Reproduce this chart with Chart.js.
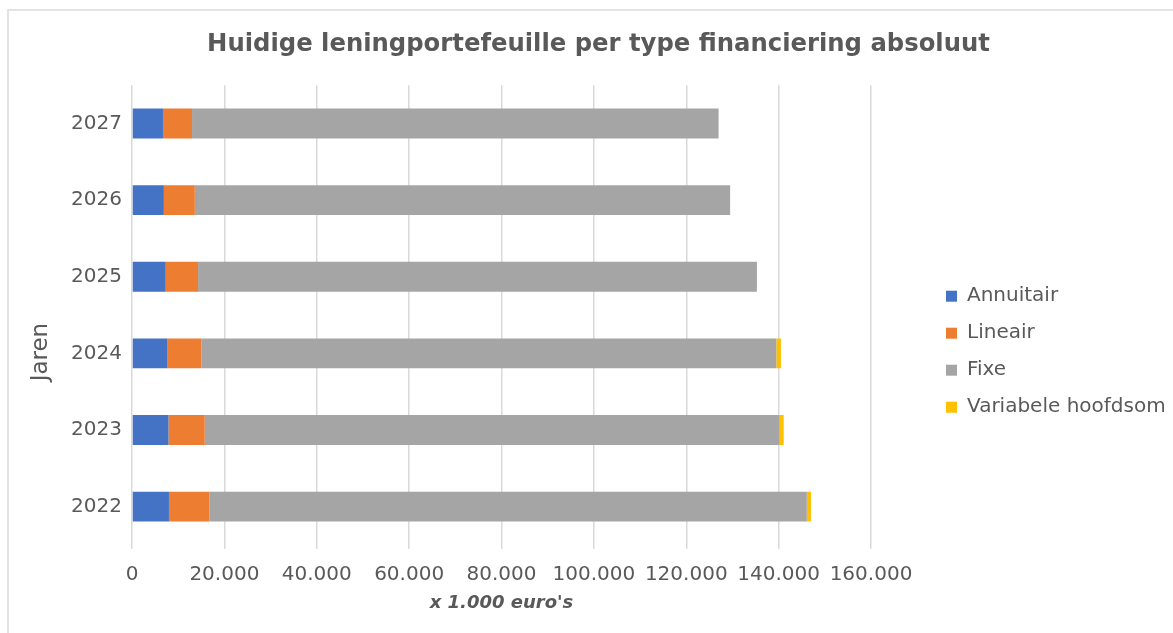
<!DOCTYPE html>
<html>
<head>
<meta charset="utf-8">
<script src="https://cdn.jsdelivr.net/npm/chart.js@4/dist/chart.umd.min.js"></script>
<style>
    html, body { margin: 0; padding: 0; background: #fff; }
    #wrap { position: relative; width: 1173px; height: 633px; overflow: hidden; }
    #frame { position: absolute; left: 7px; top: 9px; width: 1180px; height: 640px; border: 2px solid #e3e3e3; box-sizing: border-box; }
    canvas { position: absolute; left: 0; top: 0; }
</style>
</head>
<body>
<div id="wrap">
    <div id="frame"></div>
    <canvas id="chart" width="1173" height="633"></canvas>
</div>
<script>
// jaren (van onder naar boven)
const jaren = ['2022', '2023', '2024', '2025', '2026', '2027'];

// x 1.000 euro's
const annuitair = [8000, 7900, 7700, 7300, 6900, 6700];
const lineair = [8800, 7850, 7300, 7000, 6700, 6300];
const fixe = [129300, 124450, 124500, 121000, 115900, 114000];
const variabeleHoofdsom = [900, 900, 1000, 0, 0, 0];

const xTicks = [0, 20000, 40000, 60000, 80000, 100000, 120000, 140000, 160000];

const textColor = '#595959';
const fontFamily = '"DejaVu Sans", Verdana, sans-serif';

// as-titel "Jaren" links, iets onder het midden
const jarenTitel = {
    id: 'jarenTitel',
    afterDraw(chart) {
        const ctx = chart.ctx;
        const area = chart.chartArea;
        ctx.save();
        ctx.translate(41, (area.top + area.bottom) / 2 + 37);
        ctx.rotate(-Math.PI / 2);
        ctx.fillStyle = textColor;
        ctx.font = '23px ' + fontFamily;
        ctx.textAlign = 'center';
        ctx.textBaseline = 'middle';
        ctx.fillText('Jaren', 0, 0);
        ctx.restore();
    }
};

// legenda verder naar rechts en titel iets naar rechts (zoals in Excel)
const excelPlaatsing = {
    id: 'excelPlaatsing',
    afterLayout(chart) {
        const lg = chart.legend;
        lg.left = chart.chartArea.right + 58;
        lg.right = chart.width;
        lg.width = lg.right - lg.left;
        const tb = chart.titleBlock;
        tb.left += 63;
        tb.right += 63;
    }
};

const ctx = document.getElementById('chart').getContext('2d');
new Chart(ctx, {
    type: 'bar',
    data: {
        labels: jaren,
        datasets: [
            { label: 'Annuitair', data: annuitair, backgroundColor: '#4472C4' },
            { label: 'Lineair', data: lineair, backgroundColor: '#ED7D31' },
            { label: 'Fixe', data: fixe, backgroundColor: '#A5A5A5' },
            { label: 'Variabele hoofdsom', data: variabeleHoofdsom, backgroundColor: '#FFC000' }
        ]
    },
    options: {
        indexAxis: 'y',
        responsive: false,
        animation: false,
        categoryPercentage: 1,
        barPercentage: 0.39,
        layout: { padding: { left: 0, right: 102, top: 0, bottom: 0 } },
        plugins: {
            title: {
                display: true,
                text: 'Huidige leningportefeuille per type financiering absoluut',
                color: textColor,
                font: { family: fontFamily, size: 24.3, weight: 'bold' },
                padding: { top: 30, bottom: 26 }
            },
            legend: {
                position: 'right',
                maxWidth: 200,
                title: { display: true, text: '', padding: { top: 56, bottom: 0 } },
                labels: {
                    color: textColor,
                    font: { family: fontFamily, size: 20 },
                    boxWidth: 11,
                    boxHeight: 11,
                    padding: 17
                }
            },
            tooltip: { enabled: false }
        },
        scales: {
            x: {
                stacked: true,
                min: 0,
                max: 160000,
                afterBuildTicks(scale) {
                    scale.ticks = xTicks.map(v => ({ value: v }));
                },
                afterFit(scale) { scale.height = 88; },
                ticks: {
                    color: textColor,
                    font: { family: fontFamily, size: 20 },
                    padding: 14,
                    maxRotation: 0,
                    callback: v => v.toLocaleString('nl-NL')
                },
                grid: { color: '#d9d9d9', lineWidth: 1.5, tickLength: 4 },
                border: { display: false },
                title: {
                    display: true,
                    text: "x 1.000 euro's",
                    color: textColor,
                    font: { family: fontFamily, size: 18, weight: 'bold', style: 'italic' },
                    padding: { top: 0, bottom: 19 }
                }
            },
            y: {
                stacked: true,
                reverse: true,
                afterFit(scale) { scale.width = 132; },
                ticks: {
                    color: textColor,
                    font: { family: fontFamily, size: 20 },
                    padding: 10
                },
                grid: { display: false, drawTicks: false },
                border: { display: false }
            }
        }
    },
    plugins: [jarenTitel, excelPlaatsing]
});
</script>
</body>
</html>
